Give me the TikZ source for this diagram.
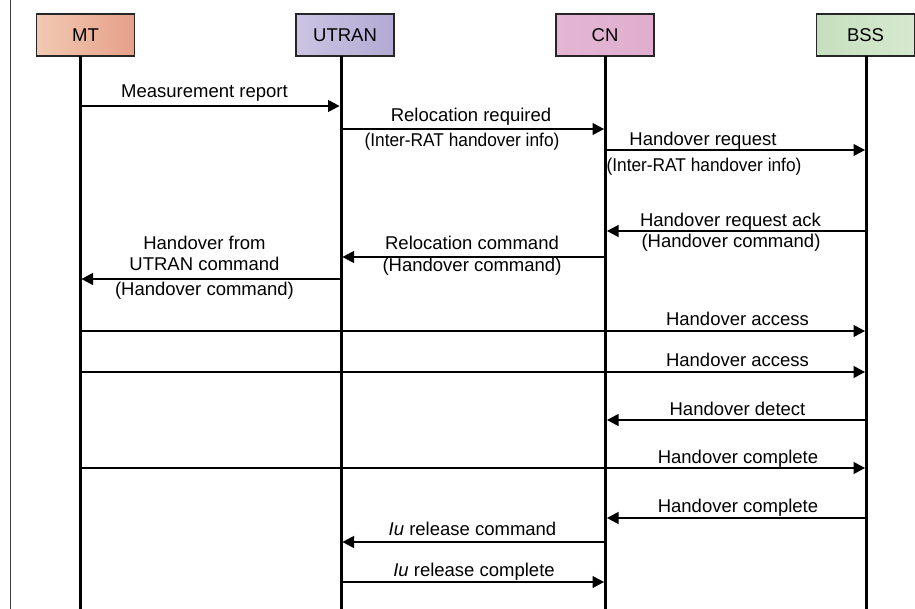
\documentclass[tikz,border=0pt]{standalone}
\usepackage{graphicx}
\usepackage{fontspec}
\setmainfont{Liberation Sans}
\usetikzlibrary{arrows.meta}

% box fills: light edge, pale middle, stronger edge
\definecolor{mtL}{HTML}{F2C9B3}
\definecolor{mtM}{HTML}{FBEEE8}
\definecolor{mtR}{HTML}{E6A088}
\definecolor{utL}{HTML}{CCC4E2}
\definecolor{utM}{HTML}{EFECF5}
\definecolor{utR}{HTML}{B2AAD4}
\definecolor{cnL}{HTML}{E4B6D4}
\definecolor{cnM}{HTML}{F5E6EF}
\definecolor{cnR}{HTML}{DFAECE}
\definecolor{bsL}{HTML}{C6DFBE}
\definecolor{bsM}{HTML}{E8F2E4}
\definecolor{bsR}{HTML}{D6E9D0}

% horizontally condensed text for the long parenthetical notes
\newcommand{\condensed}[1]{\scalebox{0.935}[1]{#1}}

\begin{document}
\begin{tikzpicture}[x=1pt,y=-1pt,
  actor/.style={draw=black!85, line width=1.2pt, minimum width=98pt,
    minimum height=42pt, inner sep=0pt, font=\fontsize{18.5}{22}\selectfont},
  lifeline/.style={line width=3pt},
  msg/.style={line width=1.2pt, -{Triangle[length=11.5pt,width=12pt]},
    shorten >=1.5pt, shorten <=1.5pt},
  lbl/.style={anchor=base, inner sep=0pt, font=\fontsize{18.5}{22}\selectfont}]

\useasboundingbox (0,0) rectangle (915,609);

% frame edge on the left
\draw[line width=1pt, black!75] (10,0) -- (10,609);

% entities
\node[actor, left color=mtL, middle color=mtM, right color=mtR] (MT)   at (85.5,35)  {MT};
\node[actor, left color=utL, middle color=utM, right color=utR] (UT)   at (345,35)   {UTRAN};
\node[actor, left color=cnL, middle color=cnM, right color=cnR] (CN)   at (605,35)   {CN};
\node[actor, left color=bsL, middle color=bsM, right color=bsR] (BSS)  at (865.5,35) {BSS};

% lifelines
\coordinate (mtTop) at (80,56);    \coordinate (mtEnd) at (80,609);
\coordinate (utTop) at (341,56);   \coordinate (utEnd) at (341,609);
\coordinate (cnTop) at (605.5,56); \coordinate (cnEnd) at (605.5,609);
\coordinate (bsTop) at (866.5,56); \coordinate (bsEnd) at (866.5,609);
\draw[lifeline] (mtTop) -- (mtEnd);
\draw[lifeline] (utTop) -- (utEnd);
\draw[lifeline] (cnTop) -- (cnEnd);
\draw[lifeline] (bsTop) -- (bsEnd);

% message rows
\coordinate (r1)  at (0,106);
\coordinate (r2)  at (0,129);
\coordinate (r3)  at (0,150);
\coordinate (r4)  at (0,231);
\coordinate (r5)  at (0,257);
\coordinate (r6)  at (0,279);
\coordinate (r7)  at (0,331);
\coordinate (r8)  at (0,372);
\coordinate (r9)  at (0,420);
\coordinate (r10) at (0,468);
\coordinate (r11) at (0,518);
\coordinate (r12) at (0,542);
\coordinate (r13) at (0,582);

\draw[msg] (mtTop |- r1)  -- (utTop |- r1);
\draw[msg] (utTop |- r2)  -- (cnTop |- r2);
\draw[msg] (cnTop |- r3)  -- (bsTop |- r3);
\draw[msg] (bsTop |- r4)  -- (cnTop |- r4);
\draw[msg] (cnTop |- r5)  -- (utTop |- r5);
\draw[msg] (utTop |- r6)  -- (mtTop |- r6);
\draw[msg] (mtTop |- r7)  -- (bsTop |- r7);
\draw[msg] (mtTop |- r8)  -- (bsTop |- r8);
\draw[msg] (bsTop |- r9)  -- (cnTop |- r9);
\draw[msg] (mtTop |- r10) -- (bsTop |- r10);
\draw[msg] (bsTop |- r11) -- (cnTop |- r11);
\draw[msg] (cnTop |- r12) -- (utTop |- r12);
\draw[msg] (utTop |- r13) -- (cnTop |- r13);

% message labels
\node[lbl] (l1)  at (204.5,98)  {Measurement report};
\node[lbl] (l2a) at (471,122)   {Relocation required};
\node[lbl] (l2b) at (462,147)   {\condensed{(Inter-RAT handover info)}};
\node[lbl] (l3a) at (703,146)   {Handover request};
\node[lbl] (l3b) at (704,172)   {\condensed{(Inter-RAT handover info)}};
\node[lbl] (l4a) at (730.5,227) {Handover request ack};
\node[lbl] (l4b) at (731,247.5) {(Handover command)};
\node[lbl] (l5a) at (472,250)   {Relocation command};
\node[lbl] (l5b) at (472,271.5) {(Handover command)};
\node[lbl] (l6a) at (204.5,250) {Handover from};
\node[lbl] (l6b) at (204.5,271) {UTRAN command};
\node[lbl] (l6c) at (204.5,296) {(Handover command)};
\node[lbl] (l7)  at (737.5,326) {Handover access};
\node[lbl] (l8)  at (737.5,366) {Handover access};
\node[lbl] (l9)  at (737.5,415) {Handover detect};
\node[lbl] (l10) at (738,463)   {Handover complete};
\node[lbl] (l11) at (738,512)   {Handover complete};
\node[lbl] (l12) at (472.5,535) {\textit{Iu} release command};
\node[lbl] (l13) at (474,576)   {\textit{Iu} release complete};

\end{tikzpicture}
\end{document}
